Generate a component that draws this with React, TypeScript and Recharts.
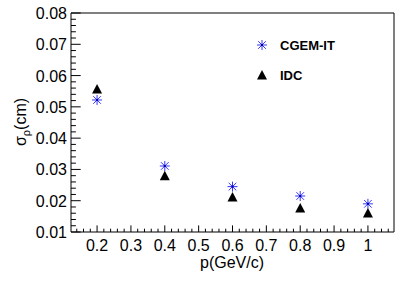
import { ReferenceArea, Scatter, ScatterChart, XAxis, YAxis } from "recharts";

// momentum points (GeV/c)
const P = [0.2, 0.4, 0.6, 0.8, 1.0];
// resolution in cm
const CGEM_IT = [0.0522, 0.0311, 0.0245, 0.0215, 0.019];
const IDC = [0.0557, 0.028, 0.0212, 0.0177, 0.0161];

const X_MAJOR = [0.2, 0.3, 0.4, 0.5, 0.6, 0.7, 0.8, 0.9, 1.0];
const Y_MAJOR = [0.01, 0.02, 0.03, 0.04, 0.05, 0.06, 0.07, 0.08];

const X_DOMAIN = [0.123, 1.077];
const Y_DOMAIN = [0.01, 0.08];

// minor tick marks, 5 divisions per major step
const minorTicks = (lo: number, hi: number, step: number) => {
  const out: number[] = [];
  for (let i = Math.ceil(lo / step - 1e-6); i * step <= hi + 1e-9; i++) {
    out.push(Number((i * step).toFixed(4)));
  }
  return out;
};
const xTicks = minorTicks(X_DOMAIN[0], X_DOMAIN[1], 0.02);
const yTicks = minorTicks(Y_DOMAIN[0], Y_DOMAIN[1], 0.002);

const isMajor = (v: number, majors: number[]) => majors.some((m) => Math.abs(m - v) < 1e-6);

const cgemData = P.map((p, i) => ({ p, s: CGEM_IT[i] }));
const idcData = P.map((p, i) => ({ p, s: IDC[i] }));

const FONT = "'Liberation Sans', Arial, Helvetica, sans-serif";

const Asterisk = ({ cx, cy }: any) => (
  <g stroke="#3535ff" strokeWidth={1}>
    <line x1={cx - 5} y1={cy} x2={cx + 5} y2={cy} />
    <line x1={cx} y1={cy - 5} x2={cx} y2={cy + 5} />
    <line x1={cx - 3.8} y1={cy - 3.8} x2={cx + 3.8} y2={cy + 3.8} />
    <line x1={cx - 3.8} y1={cy + 3.8} x2={cx + 3.8} y2={cy - 3.8} />
    <rect x={cx - 1} y={cy - 1} width={2} height={2} fill="#0000a0" stroke="none" />
  </g>
);

const Triangle = ({ cx, cy }: any) => (
  <polygon points={`${cx - 5},${cy + 4.5} ${cx + 5},${cy + 4.5} ${cx},${cy - 5}`} fill="#000" />
);

const XTick = ({ x, y, payload }: any) => {
  const major = isMajor(payload.value, X_MAJOR);
  const label = Number(payload.value.toFixed(1)).toString();
  return (
    <g>
      <line x1={x} y1={y} x2={x} y2={y - (major ? 6.6 : 3.3)} stroke="#000" />
      {major && (
        <text x={x} y={y + 19} textAnchor="middle" fontFamily={FONT} fontSize={16} fill="#000">
          {label}
        </text>
      )}
    </g>
  );
};

const YTick = ({ x, y, payload }: any) => {
  const major = isMajor(payload.value, Y_MAJOR);
  return (
    <g>
      <line x1={x} y1={y} x2={x + (major ? 9.7 : 4.9)} y2={y} stroke="#000" />
      {major && (
        <text x={x - 4} y={y + 6} textAnchor="end" fontFamily={FONT} fontSize={16} fill="#000">
          {payload.value.toFixed(2)}
        </text>
      )}
    </g>
  );
};

const LegendBox = () => (
  <div
    style={{
      position: "absolute",
      left: 255,
      top: 30,
      fontFamily: FONT,
      fontWeight: "bold",
      fontSize: 13,
      color: "#000",
    }}
  >
    <div style={{ display: "flex", alignItems: "center", height: 30 }}>
      <svg width={16} height={14}>
        <Asterisk cx={7} cy={7} />
      </svg>
      <span style={{ marginLeft: 9 }}>CGEM-IT</span>
    </div>
    <div style={{ display: "flex", alignItems: "center", height: 30 }}>
      <svg width={16} height={14}>
        <Triangle cx={7} cy={7} />
      </svg>
      <span style={{ marginLeft: 9 }}>IDC</span>
    </div>
  </div>
);

export default function App() {
  return (
    <div style={{ position: "relative", width: 415, height: 281, background: "#fff" }}>
      <style>{"body{margin:0}"}</style>
      <ScatterChart width={415} height={281} margin={{ top: 13, right: 21, bottom: 0, left: 0 }}>
        <XAxis
          type="number"
          dataKey="p"
          domain={X_DOMAIN}
          ticks={xTicks}
          interval={0}
          allowDataOverflow
          height={49}
          tickSize={0}
          tickMargin={0}
          tickLine={false}
          axisLine={false}
          tick={<XTick />}
          label={{
            content: () => (
              <text x={232} y={268} textAnchor="middle" fontFamily={FONT} fontSize={16} fill="#000">
                p(GeV/c)
              </text>
            ),
          }}
        />
        <YAxis
          type="number"
          dataKey="s"
          domain={Y_DOMAIN}
          ticks={yTicks}
          interval={0}
          allowDataOverflow
          width={71}
          tickSize={0}
          tickMargin={0}
          tickLine={false}
          axisLine={false}
          tick={<YTick />}
          label={{
            content: () => (
              <text
                x={26}
                y={122}
                transform="rotate(-90 26 122)"
                textAnchor="middle"
                fontFamily={FONT}
                fontSize={16}
                fill="#000"
              >
                σ<tspan fontSize={11} dy={4}>ρ</tspan>
                <tspan dy={-4}>(cm)</tspan>
              </text>
            ),
          }}
        />
        <ReferenceArea
          x1={X_DOMAIN[0]}
          x2={X_DOMAIN[1]}
          y1={Y_DOMAIN[0]}
          y2={Y_DOMAIN[1]}
          fill="none"
          fillOpacity={0}
          stroke="#000"
          strokeWidth={1}
          ifOverflow="visible"
        />
        <Scatter name="IDC" data={idcData} shape={Triangle} isAnimationActive={false} />
        <Scatter name="CGEM-IT" data={cgemData} shape={Asterisk} isAnimationActive={false} />
      </ScatterChart>
      <LegendBox />
    </div>
  );
}
